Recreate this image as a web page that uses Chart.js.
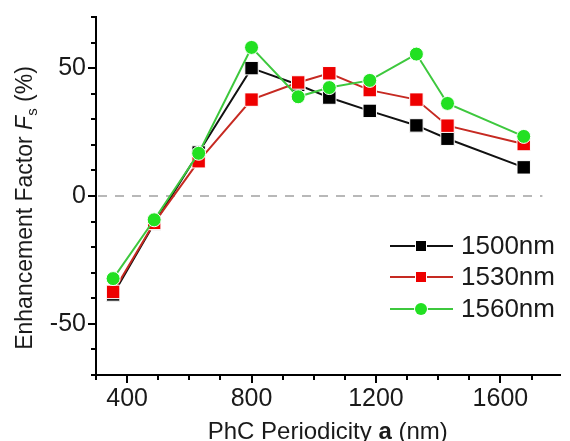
<!DOCTYPE html>
<html>
<head>
<meta charset="utf-8">
<script src="https://cdn.jsdelivr.net/npm/chart.js@4"></script>
<style>
  html, body { margin: 0; padding: 0; background: #fff; }
  #wrap { width: 570px; height: 441px; }
</style>
</head>
<body>
<div id="wrap"><canvas id="chartFs"></canvas></div>
<script>
// PhC periodicity a (nm)
const periods = [355, 487, 630, 800, 950, 1050, 1180, 1330, 1430, 1675];
// enhancement factor Fs (%) per wavelength
const fs1500 = [-38.5, -10.8, 17, 50, 43.5, 38.5, 33.3, 27.6, 22.4, 11.2];
const fs1530 = [-37.5, -10.5, 13.6, 37.7, 44.4, 48, 41.4, 37.7, 27.5, 20.3];
const fs1560 = [-32.3, -9.3, 16.7, 58.1, 38.8, 42.4, 45.2, 55.5, 36.2, 23.3];

const seriesNames = ['1500nm', '1530nm', '1560nm'];
const xTicks = [400, 800, 1200, 1600];
const yTicks = [-50, 0, 50];

const FONT = "'Liberation Sans', Arial, sans-serif";
const TXT = '#1a1a1a';

const toPts = ys => periods.map((p, i) => ({ x: p, y: ys[i] }));

const series = [
    { name: seriesNames[0], data: fs1500, line: '#111', fill: '#000', style: 'rect', r: 9.5, order: 3 },
    { name: seriesNames[1], data: fs1530, line: '#c62a22', fill: '#ee0000', style: 'rect', r: 9.5, order: 2 },
    { name: seriesNames[2], data: fs1560, line: '#3ec83e', fill: '#22e022', style: 'circle', r: 7, order: 1 }
];

// minor ticks, zero line, axis titles, legend
const decor = {
    id: 'decor',
    beforeDatasetsDraw(chart) {
        const { ctx, chartArea, scales: { x, y } } = chart;
        const y0 = y.getPixelForValue(0);
        ctx.save();
        ctx.strokeStyle = '#b8b8b8';
        ctx.lineWidth = 2;
        ctx.setLineDash([9, 8]);
        ctx.beginPath();
        ctx.moveTo(chartArea.left + 2, y0);
        ctx.lineTo(x.getPixelForValue(1735), y0);
        ctx.stroke();
        ctx.restore();
    },
    afterDraw(chart) {
        const { ctx, chartArea, scales: { x, y } } = chart;
        ctx.save();
        ctx.strokeStyle = '#000';
        ctx.lineWidth = 2;
        // minor ticks
        for (let v = 300; v <= 1790; v += 100) {
            if (xTicks.includes(v)) continue;
            const px = Math.round(x.getPixelForValue(v));
            ctx.beginPath();
            ctx.moveTo(px, chartArea.bottom);
            ctx.lineTo(px, chartArea.bottom + 5);
            ctx.stroke();
        }
        for (let v = -70; v <= 70; v += 10) {
            if (yTicks.includes(v)) continue;
            const py = Math.round(y.getPixelForValue(v));
            ctx.beginPath();
            ctx.moveTo(chartArea.left, py);
            ctx.lineTo(chartArea.left - 5, py);
            ctx.stroke();
        }

        // x title
        ctx.fillStyle = TXT;
        ctx.textBaseline = 'alphabetic';
        const parts = [
            { t: 'PhC Periodicity ', f: `24px ${FONT}` },
            { t: 'a', f: `bold 24px ${FONT}` },
            { t: ' (nm)', f: `24px ${FONT}` }
        ];
        let total = 0;
        parts.forEach(p => { ctx.font = p.f; p.w = ctx.measureText(p.t).width; total += p.w; });
        let cx = (chartArea.left + chartArea.right) / 2 - total / 2;
        parts.forEach(p => { ctx.font = p.f; ctx.fillText(p.t, cx, 439); cx += p.w; });

        // y title (rotated)
        ctx.save();
        ctx.translate(32, 208);
        ctx.rotate(-Math.PI / 2);
        const yp = [
            { t: 'Enhancement Factor ', f: `23px ${FONT}`, dy: 0 },
            { t: 'F', f: `italic 23px ${FONT}`, dy: 0 },
            { t: 's', f: `15px ${FONT}`, dy: 5 },
            { t: ' (%)', f: `23px ${FONT}`, dy: 0 }
        ];
        total = 0;
        yp.forEach(p => { ctx.font = p.f; p.w = ctx.measureText(p.t).width; total += p.w; });
        cx = -total / 2;
        yp.forEach(p => { ctx.font = p.f; ctx.fillText(p.t, cx, p.dy); cx += p.w; });
        ctx.restore();

        // legend
        const rows = [246, 277, 309];
        series.forEach((s, i) => {
            const ly = rows[i];
            ctx.strokeStyle = s.line;
            ctx.lineWidth = 2;
            ctx.beginPath();
            ctx.moveTo(390, ly);
            ctx.lineTo(453, ly);
            ctx.stroke();
            ctx.fillStyle = s.fill;
            ctx.strokeStyle = '#fff';
            ctx.lineWidth = 2;
            ctx.beginPath();
            if (s.style === 'rect') ctx.rect(416, ly - 5, 10, 10);
            else ctx.arc(421, ly, 6, 0, Math.PI * 2);
            ctx.stroke();
            ctx.fill();
            ctx.fillStyle = TXT;
            ctx.font = `26px ${FONT}`;
            ctx.textBaseline = 'middle';
            ctx.fillText(s.name, 461, ly + 1);
        });
        ctx.restore();
    }
};

const ctx = document.getElementById('chartFs').getContext('2d');
new Chart(ctx, {
    type: 'line',
    data: {
        datasets: series.map(s => ({
            label: s.name,
            data: toPts(s.data),
            borderColor: s.line,
            borderWidth: 2,
            backgroundColor: s.fill,
            pointBackgroundColor: s.fill,
            pointBorderColor: '#fff',
            pointBorderWidth: 1,
            pointStyle: s.style,
            pointRadius: s.r,
            tension: 0,
            order: s.order
        }))
    },
    options: {
        responsive: true,
        maintainAspectRatio: false,
        animation: false,
        layout: { padding: { top: 15, right: 0, left: 0, bottom: 0 } },
        plugins: { legend: { display: false }, tooltip: { enabled: false } },
        scales: {
            x: {
                type: 'linear',
                min: 300,
                max: 1790,
                afterBuildTicks: sc => { sc.ticks = xTicks.map(v => ({ value: v })); },
                afterFit: sc => { sc.height = 66; },
                grid: { display: true, drawOnChartArea: false, drawTicks: true, tickLength: 8, color: '#000', lineWidth: 2 },
                border: { display: true, color: '#000', width: 2 },
                ticks: { font: { family: FONT, size: 25 }, color: TXT, padding: 1, maxRotation: 0, callback: v => String(v) }
            },
            y: {
                min: -70,
                max: 70,
                afterBuildTicks: sc => { sc.ticks = yTicks.map(v => ({ value: v })); },
                afterFit: sc => { sc.width = 96; },
                grid: { display: true, drawOnChartArea: false, drawTicks: true, tickLength: 8, color: '#000', lineWidth: 2 },
                border: { display: true, color: '#000', width: 2 },
                ticks: { font: { family: FONT, size: 25 }, color: TXT, padding: 2, callback: v => String(v) }
            }
        }
    },
    plugins: [decor]
});
</script>
</body>
</html>
